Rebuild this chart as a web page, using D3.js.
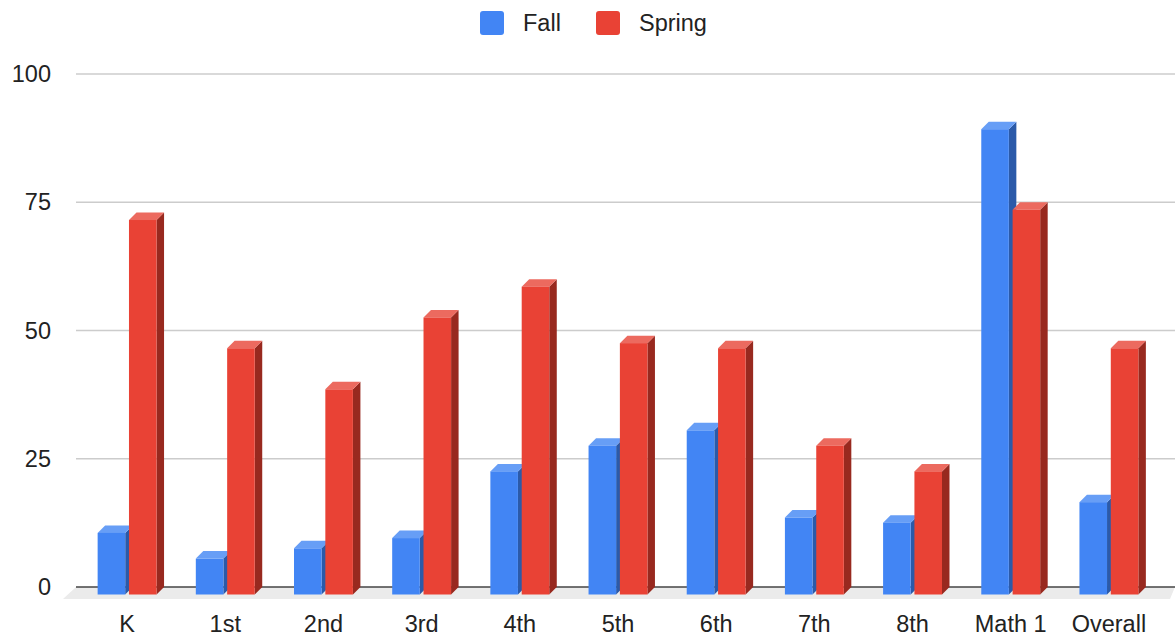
<!DOCTYPE html>
<html>
<head>
<meta charset="utf-8">
<script src="https://cdn.jsdelivr.net/npm/d3@7/dist/d3.min.js"></script>
<style>
  html, body { margin: 0; padding: 0; background: #fff; }
  svg { display: block; }
  text { font-family: "Liberation Sans", Arial, sans-serif; fill: #222; }
</style>
</head>
<body>
<svg id="chart" width="1175" height="637"></svg>
<script>
const categories = ["K", "1st", "2nd", "3rd", "4th", "5th", "6th", "7th", "8th", "Math 1", "Overall"];
const seriesNames = ["Fall", "Spring"];
const fallValues = [12, 7, 9, 11, 24, 29, 32, 15, 14, 90.7, 18];
const springValues = [73, 48, 40, 54, 60, 49, 48, 29, 24, 75, 48];
const yTicks = [0, 25, 50, 75, 100];

const colors = {
  Fall:   { front: "#4285f4", side: "#2b5aa9", top: "#679ef6" },
  Spring: { front: "#e94235", side: "#98291f", top: "#ec6a5f" }
};

const svg = d3.select("#chart");
const depth = 7.5;
const backLeft = 76, backRight = 1175;
const fontSize = 23.5;

const y = d3.scaleLinear().domain([0, 100]).range([587, 74]);
const x0 = d3.scaleBand().domain(categories).range([78, 1158]).paddingInner(0.4).paddingOuter(0.2);
const x1 = d3.scaleBand().domain(seriesNames).range([0, x0.bandwidth()]).paddingInner(0.12);

// floor
svg.append("polygon")
  .attr("points", [[backLeft, y(0)], [backRight, y(0)], [1170, y(0) + 12], [63, y(0) + 12]].map(p => p.join(",")).join(" "))
  .attr("fill", "#ebebeb");

// gridlines
svg.append("g").selectAll("line")
  .data(yTicks)
  .join("line")
  .attr("x1", backLeft).attr("x2", backRight)
  .attr("y1", d => y(d)).attr("y2", d => y(d))
  .attr("stroke", d => d === 0 ? "#444" : "#cccccc")
  .attr("stroke-width", 1.6);

// y axis labels
const yAxis = d3.axisLeft(y).tickValues(yTicks).tickSize(0).tickPadding(0);
const gy = svg.append("g").attr("transform", "translate(51,0)").call(yAxis);
gy.select(".domain").remove();
gy.selectAll("text").attr("font-size", fontSize).style("font-family", '"Liberation Sans", Arial, sans-serif').attr("fill", "#222");

// bars
const data = categories.map((c, i) => ({ cat: c, vals: [
  { s: "Fall", v: fallValues[i] }, { s: "Spring", v: springValues[i] }
]}));

const groups = svg.append("g").selectAll("g")
  .data(data).join("g")
  .attr("transform", d => `translate(${x0(d.cat)},0)`);

groups.each(function(d) {
  const g = d3.select(this);
  d.vals.forEach(b => {
    const xl = x1(b.s), xr = xl + x1.bandwidth();
    const yt = y(b.v) + depth, yb = y(0) + depth;
    const c = colors[b.s];
    g.append("polygon")
      .attr("points", [[xr, yt], [xr + depth, yt - depth], [xr + depth, yb - depth], [xr, yb]].map(p => p.join(",")).join(" "))
      .attr("fill", c.side);
    g.append("polygon")
      .attr("points", [[xl, yt], [xl + depth, yt - depth], [xr + depth, yt - depth], [xr, yt]].map(p => p.join(",")).join(" "))
      .attr("fill", c.top);
    g.append("rect")
      .attr("x", xl).attr("y", yt)
      .attr("width", x1.bandwidth()).attr("height", yb - yt)
      .attr("fill", c.front);
  });
});

// x labels
svg.append("g").selectAll("text")
  .data(categories).join("text")
  .attr("x", d => x0(d) + x0.bandwidth() / 2)
  .attr("y", 632)
  .attr("text-anchor", "middle")
  .attr("font-size", fontSize)
  .text(d => d);

// legend
const legend = svg.append("g");
const legendItems = [{ s: "Fall", x: 480 }, { s: "Spring", x: 596 }];
legendItems.forEach(it => {
  legend.append("rect")
    .attr("x", it.x).attr("y", 11).attr("width", 24).attr("height", 24)
    .attr("rx", 3).attr("fill", colors[it.s].front);
  legend.append("text")
    .attr("x", it.x + 43).attr("y", 31)
    .attr("font-size", fontSize)
    .text(it.s);
});
</script>
</body>
</html>
